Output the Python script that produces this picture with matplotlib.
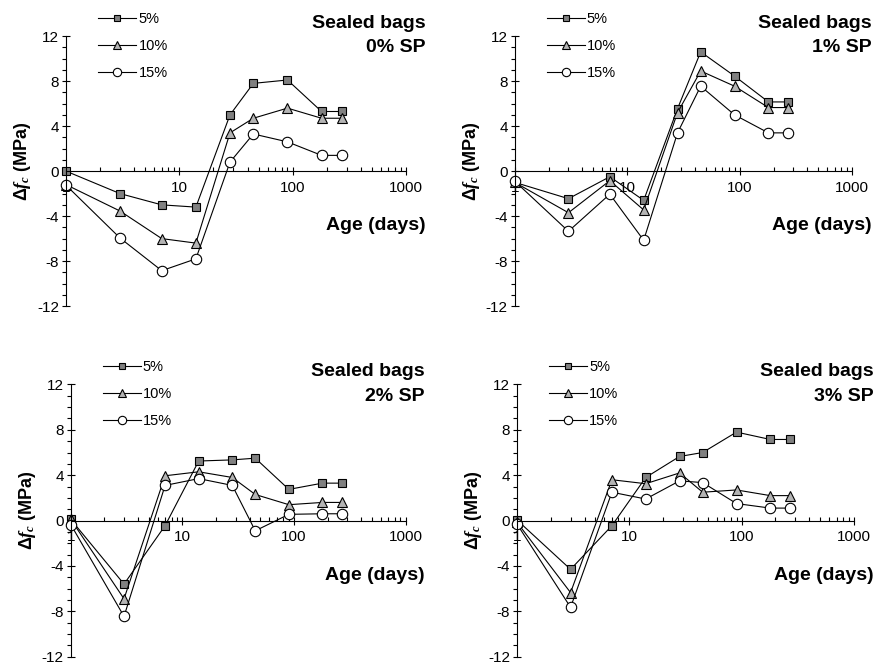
import matplotlib
matplotlib.use("Agg")
import matplotlib.pyplot as plt
from matplotlib.ticker import FixedLocator, MultipleLocator, LogLocator, NullFormatter, FixedFormatter

plt.rcParams['font.family'] = ['Liberation Sans', 'DejaVu Sans']
plt.rcParams['mathtext.fontset'] = 'custom'
plt.rcParams['mathtext.rm'] = 'Liberation Sans:bold'
plt.rcParams['mathtext.bf'] = 'Liberation Sans:bold'
plt.rcParams['mathtext.it'] = 'Liberation Serif:italic:bold'

age = [1, 3, 7, 14, 28, 45, 90, 180, 270]
series_labels = ['5%', '10%', '15%']
title_line1 = 'Sealed bags'
sp_labels = ['0% SP', '1% SP', '2% SP', '3% SP']

sp0_5 = [0.0, -2.0, -3.0, -3.2, 5.0, 7.8, 8.1, 5.3, 5.3]
sp0_10 = [-1.2, -3.55, -6.0, -6.4, 3.4, 4.7, 5.6, 4.7, 4.7]
sp0_15 = [-1.25, -5.95, -8.85, -7.8, 0.8, 3.3, 2.6, 1.4, 1.4]

sp1_5 = [-1.0, -2.45, -0.5, -2.6, 5.55, 10.6, 8.45, 6.15, 6.15]
sp1_10 = [-1.0, -3.7, -0.85, -3.45, 5.2, 8.9, 7.55, 5.65, 5.65]
sp1_15 = [-0.9, -5.35, -2.05, -6.15, 3.4, 7.55, 5.0, 3.4, 3.4]

sp2_5 = [0.1, -5.6, -0.45, 5.25, 5.35, 5.5, 2.75, 3.3, 3.3]
sp2_10 = [0.1, -6.9, 3.95, 4.3, 3.8, 2.3, 1.4, 1.6, 1.6]
sp2_15 = [-0.35, -8.45, 3.1, 3.7, 3.1, -0.9, 0.55, 0.6, 0.6]

sp3_5 = [0.05, -4.3, -0.45, 3.8, 5.65, 6.0, 7.8, 7.15, 7.15]
sp3_10 = [-0.15, -6.35, 3.6, 3.25, 4.2, 2.5, 2.7, 2.2, 2.2]
sp3_15 = [-0.3, -7.65, 2.5, 1.9, 3.5, 3.35, 1.5, 1.1, 1.1]

panels = [(sp0_5, sp0_10, sp0_15), (sp1_5, sp1_10, sp1_15),
          (sp2_5, sp2_10, sp2_15), (sp3_5, sp3_10, sp3_15)]

yticks = [-12, -8, -4, 0, 4, 8, 12]
xticks = [1, 10, 100, 1000]
xticklabels = ['1', '10', '100', '1000']

styles = [dict(marker='s', markersize=6, markerfacecolor='#808080'),
          dict(marker='^', markersize=7, markerfacecolor='#b4b4b4'),
          dict(marker='o', markersize=7.5, markerfacecolor='white')]

fig = plt.figure(figsize=(8.74, 6.64), dpi=100)
rects = [(0.0755, 0.539, 0.389, 0.4066), (0.589, 0.539, 0.386, 0.4066),
         (0.081, 0.011, 0.383, 0.410), (0.5915, 0.011, 0.3856, 0.410)]

for rect, data, spl in zip(rects, panels, sp_labels):
    ax = fig.add_axes(rect)
    ax.set_xscale('log')
    ax.set_xlim(1, 1000)
    ax.set_ylim(-12, 12)
    for vals, lab, st in zip(data, series_labels, styles):
        ax.plot(age, vals, color='black', linewidth=0.8, markeredgecolor='black',
                markeredgewidth=0.8, label=lab, clip_on=False, **st)
    ax.spines['top'].set_visible(False)
    ax.spines['right'].set_visible(False)
    ax.spines['bottom'].set_position(('data', 0))
    for s in ('left', 'bottom'):
        ax.spines[s].set_linewidth(0.8)
    ax.yaxis.set_major_locator(FixedLocator(yticks))
    ax.yaxis.set_minor_locator(MultipleLocator(1))
    ax.set_yticklabels([str(t) for t in yticks])
    ax.xaxis.set_major_locator(FixedLocator(xticks))
    ax.xaxis.set_major_formatter(FixedFormatter(xticklabels))
    ax.xaxis.set_minor_locator(LogLocator(base=10, subs=range(2, 10)))
    ax.xaxis.set_minor_formatter(NullFormatter())
    ax.tick_params(axis='y', which='major', direction='inout', length=6, width=0.8, pad=2, labelsize=11)
    ax.tick_params(axis='y', which='minor', direction='out', length=3, width=0.8)
    ax.tick_params(axis='x', which='major', direction='inout', length=6, width=0.8, pad=4, labelsize=11)
    ax.tick_params(axis='x', which='minor', direction='in', length=3, width=0.8)
    ax.set_ylabel(r'$\Delta\mathit{f}_{\mathit{c}}$ (MPa)', fontsize=13, fontweight='bold')
    ax.yaxis.set_label_coords(-0.097, 0.537)
    ax.text(1.058, 0.281, 'Age (days)', transform=ax.transAxes, ha='right', va='baseline',
            fontsize=14, fontweight='bold')
    ax.text(1.058, 1.03, title_line1, transform=ax.transAxes, ha='right', va='baseline',
            fontsize=14, fontweight='bold')
    ax.text(1.058, 0.941, spl, transform=ax.transAxes, ha='right', va='baseline',
            fontsize=14, fontweight='bold')
    leg = ax.legend(loc='upper left', bbox_to_anchor=(0.095, 1.088), frameon=False,
                    fontsize=10.5, borderpad=0, borderaxespad=0, handlelength=2.6,
                    handletextpad=0.15, labelspacing=0.88, markerscale=0.8)

fig.savefig('out.png', dpi=100)
